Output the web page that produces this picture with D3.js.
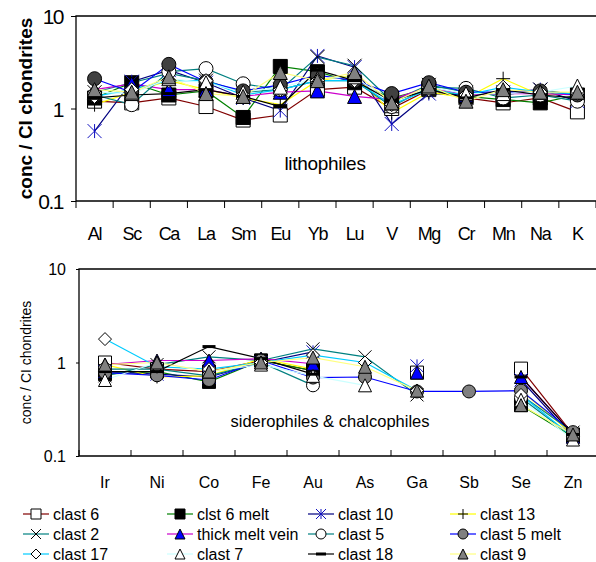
<!DOCTYPE html>
<html>
<head>
<meta charset="utf-8">
<script src="https://cdn.jsdelivr.net/npm/d3@7"></script>
<style>
body { margin: 0; background: #fff; }
text { font-family: "Liberation Sans", Arial, sans-serif; fill: #000; }
</style>
</head>
<body>
<script>
// series, in legend order
const seriesNames = ['clast 6', 'clst 6 melt', 'clast 10', 'clast 13',
  'clast 2', 'thick melt vein', 'clast 5', 'clast 5 melt',
  'clast 17', 'clast 7', 'clast 18', 'clast 9'];

const lithoElements = ['Al', 'Sc', 'Ca', 'La', 'Sm', 'Eu', 'Yb', 'Lu', 'V', 'Mg', 'Cr', 'Mn', 'Na', 'K'];
const sideroElements = ['Ir', 'Ni', 'Co', 'Fe', 'Au', 'As', 'Ga', 'Sb', 'Se', 'Zn'];

// conc / CI chondrites, one row per series
const lithoValues = [
  [1.2, 1.15, 1.3, 1.05, 0.75, 0.85, 1.6, 1.7, 1.0, 1.6, 1.3, 1.15, 1.3, 0.92],
  [1.3, 1.9, 1.4, 1.55, 0.8, 2.85, 2.5, 1.9, 1.3, 1.65, 1.35, 1.25, 1.15, 1.4],
  [0.57, 1.95, 2.6, 1.9, 1.3, 0.95, 3.7, 2.8, 0.68, 1.45, 1.4, 1.5, 1.6, 1.2],
  [1.1, 1.5, 2.0, 1.6, 1.3, 1.1, 2.0, 2.3, 0.9, 1.5, 1.3, 2.1, 1.4, 1.5],
  [1.5, 1.9, 2.4, 2.0, 1.5, 1.6, 3.6, 2.9, 1.2, 1.8, 1.5, 1.4, 1.6, 1.4],
  [1.6, 1.85, 1.6, 1.6, 1.35, 1.5, 1.55, 1.35, 1.25, 1.7, 1.4, 1.45, 1.45, 1.4],
  [1.4, 1.1, 2.5, 2.7, 1.85, 1.6, 2.0, 2.0, 1.05, 1.7, 1.65, 1.3, 1.4, 1.2],
  [2.1, 1.5, 3.0, 1.95, 1.55, 1.8, 2.3, 2.0, 1.45, 1.9, 1.5, 1.5, 1.55, 1.4],
  [1.35, 1.6, 2.0, 2.0, 1.4, 1.6, 2.0, 2.0, 1.1, 1.6, 1.4, 1.7, 1.5, 1.45],
  [1.5, 1.45, 2.1, 1.9, 1.5, 1.7, 2.1, 2.2, 1.15, 1.7, 1.45, 1.45, 1.5, 1.75],
  [1.3, 1.4, 1.45, 1.6, 1.35, 1.05, 2.6, 2.0, 1.2, 1.6, 1.3, 1.6, 1.4, 1.3],
  [1.6, 1.5, 2.2, 1.45, 1.35, 2.45, 2.0, 2.45, 1.15, 1.75, 1.2, 1.6, 1.5, 1.5]
];

const sideroValues = [
  [1.0, 0.85, 0.8, 1.05, 0.82, null, 0.78, null, 0.86, 0.17],
  [0.75, 0.8, 0.62, 1.05, 0.82, null, null, null, 0.35, 0.16],
  [0.8, 0.75, 0.7, 1.0, 1.3, null, 0.92, null, 0.65, 0.16],
  [0.95, 0.7, 0.72, 1.1, 0.85, null, null, null, 0.5, 0.17],
  [0.72, 0.95, 1.15, 1.05, 1.4, 1.15, 0.45, null, 0.45, 0.18],
  [0.95, 1.05, 1.05, 1.1, 0.97, null, 0.78, null, 0.7, 0.17],
  [0.85, 0.85, 0.72, 1.0, 0.57, null, null, null, 0.42, 0.16],
  [0.78, 0.73, 0.65, 1.05, 0.69, 0.7, 0.49, 0.49, 0.5, 0.18],
  [1.78, 0.9, 0.85, 1.0, 1.2, 1.0, 0.5, null, 0.45, 0.16],
  [0.65, 1.0, 0.8, 0.95, 0.72, 0.57, null, null, 0.4, 0.15],
  [0.8, 0.8, 1.48, 1.1, 0.75, null, null, null, 0.7, 0.17],
  [0.95, 1.0, 0.8, 1.0, 1.13, 0.9, 0.5, null, 0.35, 0.17]
];

const lineColors = ['#800000', '#008000', '#000080', '#ffff00',
  '#008080', '#cc00cc', '#008080', '#0000ff',
  '#00ccff', '#ccffff', '#000000', '#ffff80'];
const markerTypes = ['squareOpen', 'square', 'star', 'plus',
  'cross', 'triangleBlue', 'circleOpen', 'circleGray',
  'diamondOpen', 'triangleOpen', 'dash', 'triangleGray'];

const width = 596, height = 562;
const svg = d3.select('body').append('svg').attr('width', width).attr('height', height);

function marker(g, type, r, grayFill) {
  const p = (d) => g.append('path').attr('d', d);
  switch (type) {
    case 'squareOpen':
      p(`M${-r},${-r}h${2*r}v${2*r}h${-2*r}Z`).attr('fill', '#fff').attr('stroke', '#000');
      break;
    case 'square':
      p(`M${-r},${-r}h${2*r}v${2*r}h${-2*r}Z`).attr('fill', '#000').attr('stroke', '#000');
      break;
    case 'star':
      p(`M${-r},${-r}L${r},${r}M${r},${-r}L${-r},${r}M0,${-r}L0,${r}`).attr('stroke', '#1010c0').attr('fill', 'none');
      break;
    case 'plus':
      p(`M${-r},0L${r},0M0,${-r}L0,${r}`).attr('stroke', '#000').attr('fill', 'none');
      break;
    case 'cross':
      p(`M${-r},${-r}L${r},${r}M${r},${-r}L${-r},${r}`).attr('stroke', '#000').attr('fill', 'none');
      break;
    case 'triangleBlue':
      p(`M0,${-r}L${r},${r}L${-r},${r}Z`).attr('fill', '#0000ff').attr('stroke', '#000');
      break;
    case 'triangleGray':
      p(`M0,${-r}L${r},${r}L${-r},${r}Z`).attr('fill', '#808080').attr('stroke', '#000');
      break;
    case 'triangleOpen':
      p(`M0,${-r}L${r},${r}L${-r},${r}Z`).attr('fill', '#fff').attr('stroke', '#000');
      break;
    case 'circleOpen':
      g.append('circle').attr('r', r).attr('fill', '#fff').attr('stroke', '#000');
      break;
    case 'circleGray':
      g.append('circle').attr('r', r).attr('fill', grayFill).attr('stroke', '#000');
      break;
    case 'diamondOpen':
      p(`M0,${-r}L${r},0L0,${r}L${-r},0Z`).attr('fill', '#fff').attr('stroke', '#000');
      break;
    case 'dash':
      g.append('rect').attr('x', -r).attr('y', -1.5).attr('width', 2*r).attr('height', 3).attr('fill', '#000');
      break;
  }
}

function drawPanel(cfg) {
  const x = d3.scaleBand().domain(cfg.elements).range([cfg.left, cfg.right]);
  const y = d3.scaleLog().domain([0.1, 10]).range([cfg.bottom, cfg.top]);
  const g = svg.append('g');

  // frame: top, left, bottom
  g.append('path')
    .attr('d', `M${cfg.right + 5},${cfg.top}H${cfg.left}V${cfg.bottom}H${cfg.right + 5}`)
    .attr('fill', 'none').attr('stroke', '#000').attr('stroke-width', 1.3);

  // y axis
  const ya = g.append('g').attr('transform', `translate(${cfg.left},0)`)
    .call(d3.axisLeft(y).tickValues([0.1, 1, 10]).tickFormat(d3.format('~g'))
      .tickSize(cfg.yTick).tickPadding(cfg.yPad));
  ya.select('.domain').remove();
  ya.selectAll('text').style('font-size', cfg.yFont + 'px')
    .style('letter-spacing', cfg.ySpacing + 'px').attr('dy', '0.36em');

  // x tick marks at category boundaries
  for (let i = 0; i <= cfg.elements.length; i++) {
    const xx = cfg.left + i * x.step();
    g.append('line').attr('x1', xx).attr('x2', xx)
      .attr('y1', cfg.bottom).attr('y2', cfg.bottom + cfg.xTick)
      .attr('stroke', '#000');
  }

  // x labels
  const xa = g.append('g').attr('transform', `translate(0,${cfg.labelY})`)
    .call(d3.axisBottom(x).tickSize(0).tickPadding(0));
  xa.select('.domain').remove();
  xa.selectAll('text').attr('dy', 0).style('font-size', cfg.xFont + 'px')
    .style('letter-spacing', cfg.xSpacing + 'px');

  // y title
  g.append('text')
    .attr('transform', `translate(${cfg.titleX},${(cfg.top + cfg.bottom) / 2}) rotate(-90)`)
    .attr('text-anchor', 'middle')
    .style('font-size', cfg.titleFont + 'px')
    .style('font-weight', cfg.titleWeight)
    .text('conc / CI chondrites');

  // panel note
  g.append('text').attr('x', cfg.noteX).attr('y', cfg.noteY)
    .attr('text-anchor', 'middle')
    .style('font-size', cfg.noteFont + 'px')
    .style('letter-spacing', cfg.noteSpacing + 'px')
    .text(cfg.note);

  const cx = (el) => x(el) + x.bandwidth() / 2;
  const line = d3.line()
    .defined(d => d.v != null)
    .x(d => cx(d.el))
    .y(d => y(d.v));

  const rows = cfg.values.map(vals => vals.map((v, j) => ({ el: cfg.elements[j], v: v })));

  g.append('g').selectAll('path').data(rows).join('path')
    .attr('d', line)
    .attr('fill', 'none')
    .attr('stroke', (d, i) => lineColors[i])
    .attr('stroke-width', 1.2);

  rows.forEach((row, i) => {
    row.filter(d => d.v != null).forEach(d => {
      const mg = g.append('g').attr('transform', `translate(${cx(d.el)},${y(d.v)})`);
      marker(mg, markerTypes[i], cfg.r, cfg.grayFill);
    });
  });
}

drawPanel({
  elements: lithoElements, values: lithoValues,
  left: 76, right: 596, top: 16, bottom: 201,
  yTick: 5, yPad: 8, yFont: 21, ySpacing: -1.5,
  xTick: 7, labelY: 240, xFont: 18, xSpacing: -1.3,
  titleX: 32, titleFont: 19, titleWeight: 'bold',
  note: 'lithophiles', noteX: 325, noteY: 170, noteFont: 19, noteSpacing: -0.3,
  r: 7, grayFill: '#404040'
});

drawPanel({
  elements: sideroElements, values: sideroValues,
  left: 79, right: 599, top: 269, bottom: 456,
  yTick: 3, yPad: 10, yFont: 16, ySpacing: 0,
  xTick: -6, labelY: 488, xFont: 16, xSpacing: 0,
  titleX: 31, titleFont: 14, titleWeight: 'normal',
  note: 'siderophiles & chalcophiles', noteX: 330, noteY: 427, noteFont: 16.5, noteSpacing: 0,
  r: 6.5, grayFill: '#808080'
});

// legend, 4 columns by 3 rows
const legendCols = [23, 167, 308, 450];
const legendRows = [514, 534, 554];
const legend = svg.append('g');
seriesNames.forEach((name, i) => {
  const lx = legendCols[i % 4], ly = legendRows[Math.floor(i / 4)];
  const lg = legend.append('g').attr('transform', `translate(${lx},${ly})`);
  lg.append('line').attr('x1', 0).attr('x2', 26).attr('y1', 0).attr('y2', 0)
    .attr('stroke', lineColors[i]).attr('stroke-width', 2).attr('stroke-opacity', 0.6);
  const mg = lg.append('g').attr('transform', 'translate(13,0)');
  marker(mg, markerTypes[i], 5, '#808080');
  lg.append('text').attr('x', 30).attr('y', 0).attr('dy', '0.36em')
    .style('font-size', '16px').text(name);
});
</script>
</body>
</html>
